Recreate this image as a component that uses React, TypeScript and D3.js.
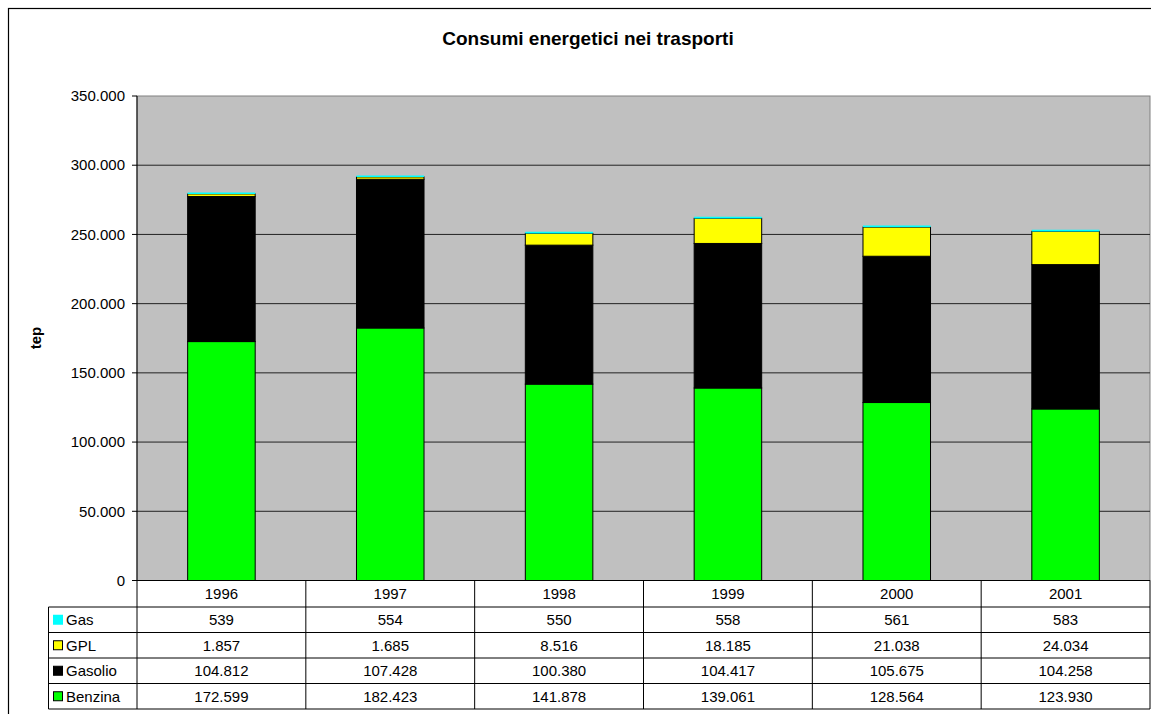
import React from "react";
import * as d3 from "d3";

const years = ["1996", "1997", "1998", "1999", "2000", "2001"];
const benzina = [172599, 182423, 141878, 139061, 128564, 123930];
const gasolio = [104812, 107428, 100380, 104417, 105675, 104258];
const gpl = [1857, 1685, 8516, 18185, 21038, 24034];
const gas = [539, 554, 550, 558, 561, 583];
const yTicks = [0, 50000, 100000, 150000, 200000, 250000, 300000, 350000];

const seriesNames = ["Benzina", "Gasolio", "GPL", "Gas"];
const seriesColors = ["#00FF00", "#000000", "#FFFF00", "#00FFFF"];
const seriesValues = [benzina, gasolio, gpl, gas];

const W = 1151;
const H = 714;
const plot = { left: 137, right: 1150, top: 96, bottom: 580.5 };
const tableRowH = 25.5;
const legendLeft = 48.5;

const locale = d3.formatLocale({
  decimal: ",",
  thousands: ".",
  grouping: [3],
  currency: ["", ""],
});
const fmt = locale.format(",d");

export default function App() {
  const x = d3
    .scaleBand<string>()
    .domain(years)
    .range([plot.left, plot.right])
    .padding(0);
  const y = d3
    .scaleLinear()
    .domain([0, 350000])
    .range([plot.bottom, plot.top]);

  const table = years.map((yr, i) => {
    const row: Record<string, number | string> = { year: yr };
    seriesNames.forEach((n, k) => (row[n] = seriesValues[k][i]));
    return row;
  });
  const stacked = d3.stack<Record<string, number | string>>().keys(seriesNames)(table as any);

  const barW = x.bandwidth() * 0.4;
  const font = "'Liberation Sans', Arial, sans-serif";
  const fs = 15;

  // table rows are listed top to bottom in reverse stack order
  const tableRows = [3, 2, 1, 0];
  const headerTop = plot.bottom;
  const headerBottom = headerTop + 26.5;
  const rowTop = (r: number) => headerBottom + r * tableRowH;
  const tableBottom = rowTop(tableRows.length);

  return (
    <svg
      width={W}
      height={H}
      style={{ position: "absolute", left: 0, top: 0, background: "#fff" }}
      fontFamily={font}
    >
      {/* chart frame */}
      <rect x={8.5} y={8.5} width={W + 20} height={H + 20} fill="#fff" stroke="#000" strokeWidth={1.2} />

      <text x={588} y={45} textAnchor="middle" fontSize={19} fontWeight="bold">
        Consumi energetici nei trasporti
      </text>

      {/* plot area */}
      <rect
        x={plot.left}
        y={plot.top}
        width={plot.right - plot.left}
        height={plot.bottom - plot.top}
        fill="#C0C0C0"
        stroke="#808080"
        strokeWidth={1}
      />

      {/* gridlines and ticks */}
      {yTicks.map((t) => (
        <g key={t}>
          {t > 0 && t < 350000 && (
            <line x1={plot.left} x2={plot.right} y1={y(t)} y2={y(t)} stroke="#222" strokeWidth={1} />
          )}
          <line x1={plot.left - 5} x2={plot.left} y1={y(t)} y2={y(t)} stroke="#000" />
          <text
            x={plot.left - 12}
            y={y(t)}
            dy="0.35em"
            textAnchor="end"
            fontSize={fs}
          >
            {t === 0 ? "0" : fmt(t)}
          </text>
        </g>
      ))}

      <text
        transform={`translate(41,338) rotate(-90)`}
        textAnchor="middle"
        fontSize={fs}
        fontWeight="bold"
      >
        tep
      </text>

      {/* stacked bars */}
      {stacked.map((layer, k) => (
        <g key={layer.key}>
          {layer.map((d, i) => {
            const x0 = (x(years[i]) as number) + (x.bandwidth() - barW) / 2;
            const y0 = y(d[1]);
            const h = y(d[0]) - y(d[1]);
            return (
              <rect
                key={i}
                x={x0}
                y={y0}
                width={barW}
                height={h}
                fill={seriesColors[k]}
                stroke={k === 3 ? "none" : "#000"}
                strokeWidth={1}
              />
            );
          })}
        </g>
      ))}
      {/* gas layer: a thin cap above each stack */}
      {stacked[3].map((d, i) => {
        const x0 = (x(years[i]) as number) + (x.bandwidth() - barW) / 2;
        return (
          <line
            key={"g" + i}
            x1={x0}
            x2={x0 + barW}
            y1={y(d[1])}
            y2={y(d[1])}
            stroke="#00FFFF"
            strokeWidth={1.5}
          />
        );
      })}

      {/* axis lines */}
      <line x1={plot.left} x2={plot.right} y1={plot.bottom} y2={plot.bottom} stroke="#000" />
      <line x1={plot.left} x2={plot.left} y1={plot.top} y2={tableBottom} stroke="#000" />

      {/* data table */}
      {years.map((yr, i) => {
        const cx = (x(yr) as number) + x.bandwidth() / 2;
        const xr = (x(yr) as number) + x.bandwidth();
        return (
          <g key={yr}>
            <line x1={xr} x2={xr} y1={headerTop} y2={tableBottom} stroke="#000" />
            <text x={cx} y={(headerTop + headerBottom) / 2} dy="0.35em" textAnchor="middle" fontSize={fs}>
              {yr}
            </text>
            {tableRows.map((k, r) => (
              <text
                key={k}
                x={cx}
                y={rowTop(r) + tableRowH / 2}
                dy="0.35em"
                textAnchor="middle"
                fontSize={fs}
              >
                {fmt(seriesValues[k][i])}
              </text>
            ))}
          </g>
        );
      })}
      {tableRows.map((k, r) => (
        <line key={"h" + r} x1={legendLeft} x2={plot.right} y1={rowTop(r)} y2={rowTop(r)} stroke="#000" />
      ))}
      <line x1={legendLeft} x2={plot.right} y1={tableBottom} y2={tableBottom} stroke="#000" />
      <line x1={legendLeft} x2={legendLeft} y1={headerBottom} y2={tableBottom} stroke="#000" />

      {/* legend keys */}
      {tableRows.map((k, r) => {
        const cy = rowTop(r) + tableRowH / 2;
        return (
          <g key={"l" + k}>
            <rect
              x={k === 3 ? 53 : 53.5}
              y={k === 3 ? cy - 5 : cy - 4.5}
              width={k === 3 ? 10 : 9}
              height={k === 3 ? 10 : 9}
              fill={seriesColors[k]}
              stroke={k === 3 ? "none" : "#000"}
              strokeWidth={1}
            />
            <text x={66} y={cy} dy="0.35em" fontSize={fs}>
              {seriesNames[k]}
            </text>
          </g>
        );
      })}
    </svg>
  );
}
